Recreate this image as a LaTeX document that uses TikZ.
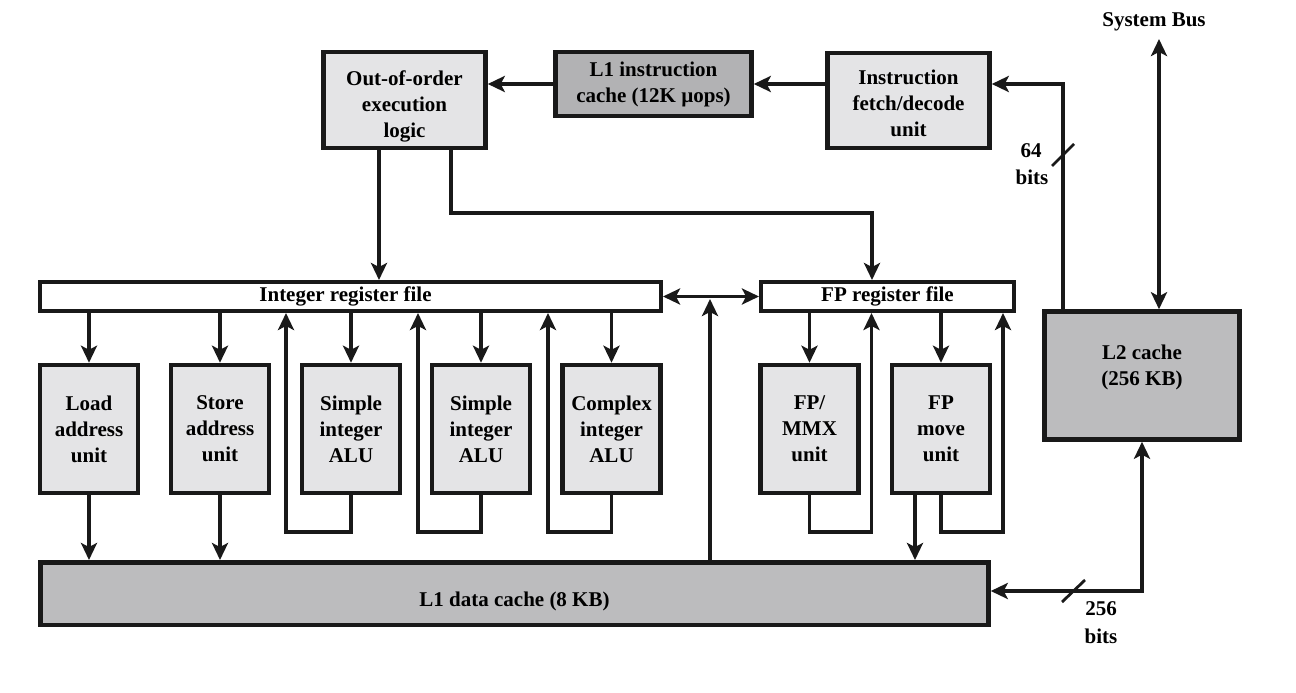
\documentclass[tikz,border=0pt]{standalone}
\usepackage{fontspec}
\setmainfont{Liberation Serif}
\usetikzlibrary{arrows.meta}
\definecolor{lightg}{RGB}{228,228,230}
\definecolor{darkg}{RGB}{188,188,190}
\definecolor{darkerg}{RGB}{178,178,180}
\definecolor{ink}{RGB}{25,25,25}
\tikzset{
  box/.style={draw=ink, line width=4.5pt, fill=lightg, align=center, inner sep=0pt,
    font=\bfseries\fontsize{21}{26}\selectfont},
  regbox/.style={box, fill=white, line width=4pt},
  lbl/.style={inner sep=0pt, align=center, font=\bfseries\fontsize{21}{26}\selectfont},
  arr/.style={draw=ink, line width=3.5pt, -{Stealth[length=17pt,width=16pt,inset=4pt]}},
  darr/.style={draw=ink, line width=3.5pt, {Stealth[length=17pt,width=16pt,inset=4pt]}-{Stealth[length=17pt,width=16pt,inset=4pt]}},
  plain/.style={draw=ink, line width=3.5pt},
  slash/.style={draw=ink, line width=2.8pt}
}
\begin{document}
\begin{tikzpicture}[x=1pt,y=-1pt]
\useasboundingbox (0,0) rectangle (1296,693);

% top row
\node[box, minimum width=162, minimum height=95.5] (ooo) at (404.5,100) {Out-of-order\\execution\\logic\\[-35pt]\mbox{}};
\node[box, fill=darkerg, minimum width=196, minimum height=63.5] (l1i) at (653.5,84) {L1 instruction\\cache (12K µops)};
\node[box, minimum width=162, minimum height=95] (fetch) at (908.5,100.5) {Instruction\\fetch/decode\\unit\\[-31pt]\mbox{}};

% L2 and L1 data
\node[box, fill=darkg, minimum width=195, minimum height=128] (l2) at (1142,375.5) {L2 cache\\(256 KB)\\[-5pt]\mbox{}};
\node[box, fill=darkg, minimum width=948, minimum height=62.5] (l1d) at (514.5,593.5) {\smash{\raisebox{-13pt}{L1 data cache (8 KB)}}};

% register files
\node[regbox, minimum width=621, minimum height=29] (ireg) at (350.5,296.5) {\hspace{-10pt}Integer register file};
\node[regbox, minimum width=253, minimum height=29] (freg) at (887.5,296.5) {FP register file};

% functional units
\node[box, minimum width=98, minimum height=128] (lau) at (89,429) {Load\\address\\unit};
\node[box, minimum width=98, minimum height=128] (sau) at (220,429) {Store\\address\\unit};
\node[box, minimum width=98, minimum height=128] (alu1) at (351,429) {Simple\\integer\\ALU};
\node[box, minimum width=98, minimum height=128] (alu2) at (481,429) {Simple\\integer\\ALU};
\node[box, minimum width=98, minimum height=128] (calu) at (611.5,429) {Complex\\integer\\ALU};
\node[box, minimum width=98, minimum height=128] (fpx) at (809.5,429) {FP/\\MMX\\unit};
\node[box, minimum width=98, minimum height=128] (fpm) at (941,429) {FP\\move\\unit};

% labels
\node[lbl] (sbus) at (1154,22) {System Bus};
\node[lbl] (b64a) at (1031,151) {64};
\node[lbl] (b64b) at (1032,177) {bits};
\node[lbl] (b256a) at (1101,609) {256};
\node[lbl] (b256b) at (1101,636) {bits};

% coordinates
\coordinate (c64) at (1063,84);
\coordinate (sb) at (1159,39);
\coordinate (c256) at (1142,591);
\coordinate (o1) at (379,0);
\coordinate (o2) at (451,213);
\coordinate (o3) at (872,213);
\coordinate (jn) at (710,299);
\coordinate (lp1) at (286,532);
\coordinate (lp2) at (418,532);
\coordinate (lp3) at (548,532);
\coordinate (lp4) at (871.5,532);
\coordinate (lp5) at (1003,532);
\coordinate (xfm) at (915,0);

% top row arrows
\draw[arr] (fetch.west |- l1i.east) -- (l1i.east);
\draw[arr] (l1i.west) -- (ooo.east |- l1i.west);
\draw[arr] (c64 |- l2.north) -- (c64) -- (fetch.east |- c64);
\draw[darr] (sb) -- (sb |- l2.north);
\draw[darr] (l1d.east |- c256) -- (c256) -- (c256 |- l2.south);

% OoO to register files
\draw[arr] (ooo.south -| o1) -- (ireg.north -| o1);
\draw[arr] (ooo.south -| o2) -- (o2) -- (o3) -- (freg.north -| o3);

% register file link
\draw[darr] (ireg.east) -- (freg.west);
\draw[arr] (l1d.north -| jn) -- (jn);

% reg file to units
\foreach \u in {lau,sau,alu1,alu2,calu}{
  \draw[arr] (ireg.south -| \u.north) -- (\u.north);
}
\foreach \u in {fpx,fpm}{
  \draw[arr] (freg.south -| \u.north) -- (\u.north);
}

% loops back
\draw[arr] (alu1.south) |- (lp1) -- (lp1 |- ireg.south);
\draw[arr] (alu2.south) |- (lp2) -- (lp2 |- ireg.south);
\draw[arr] (calu.south) |- (lp3) -- (lp3 |- ireg.south);
\draw[arr] (fpx.south) |- (lp4) -- (lp4 |- freg.south);
\draw[arr] (fpm.south) |- (lp5) -- (lp5 |- freg.south);

% units to L1 data cache
\draw[arr] (lau.south) -- (l1d.north -| lau.south);
\draw[arr] (sau.south) -- (l1d.north -| sau.south);
\draw[arr] (fpm.south -| xfm) -- (l1d.north -| xfm);

% bus width slashes
\draw[slash] (1052,166) -- (1074,144);
\draw[slash] (1062,602) -- (1085,580);
\end{tikzpicture}
\end{document}
